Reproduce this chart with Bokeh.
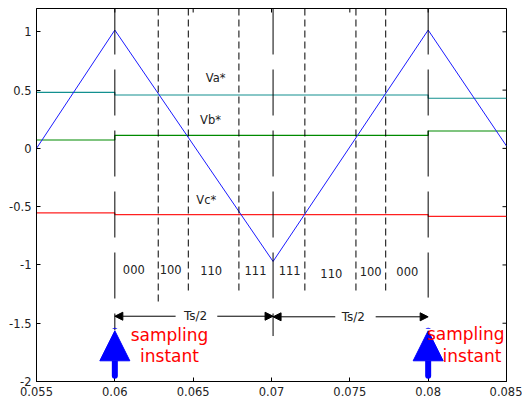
import math
from bokeh.plotting import figure
from bokeh.models import (ColumnDataSource, FixedTicker, Arrow,
                          NormalHead, Label, Range1d)
from bokeh.core.properties import value
from bokeh.embed import file_html
from bokeh.resources import INLINE

# ---- data ----
x_ticks = [0.055, 0.06, 0.065, 0.07, 0.075, 0.08, 0.085]
x_tick_labels = ["0.055", "0.06", "0.065", "0.07", "0.075", "0.08", "0.085"]
y_ticks = [-2, -1.5, -1, -0.5, 0, 0.5, 1]
y_tick_labels = ["-2", "-1.5", "-1", "-0.5", "0", "0.5", "1"]
x_lo, x_hi = 0.055, 0.085
y_lo, y_hi = -2, 1.2

carrier_t = [0.055, 0.060, 0.0701, 0.080, 0.085]
carrier_v = [0.0, 1.015, -0.97, 1.015, 0.02]

step_t = [0.055, 0.060, 0.080, 0.085]
va = [0.48, 0.458, 0.43, 0.43]
vb = [0.072, 0.111, 0.149, 0.149]
vc = [-0.554, -0.568, -0.583, -0.583]

switch_t = [0.06277, 0.06469, 0.06792, 0.07213, 0.07539, 0.07729]
switch_bottom = [-1.32, -1.24, -1.24, -1.25, -1.22, -1.24]
sample_t = [0.06, 0.0701, 0.08]
sample_bottom = [-1.56, -1.61, -1.28]

state_labels = ["000", "100", "110", "111", "111", "110", "100", "000"]
state_x = [0.06121, 0.06356, 0.06615, 0.06898, 0.07116, 0.07382, 0.07633, 0.07867]
state_y = [-1.04, -1.04, -1.05, -1.05, -1.05, -1.07, -1.055, -1.06]

ref_labels = ["Va*", "Vb*", "Vc*"]
ref_x = [0.06643, 0.06611, 0.06584]
ref_y = [0.603, 0.246, -0.44]

ts_label = ["Ts/2", "Ts/2"]
ts_x = [0.06515, 0.07522]
ts_y = [-1.44, -1.445]
ts_start = [0.06, 0.0701]
ts_end = [0.0701, 0.08]
ts_gap_l = [0.06388, 0.07407]
ts_gap_r = [0.06654, 0.07665]

arrow_t = [0.06, 0.08]
arrow_tail = [-1.95, -1.95]
arrow_tip = [-1.565, -1.565]
samp_x1 = [0.06349, 0.0824]
samp_x2 = [0.06349, 0.0828]
samp_y1 = [-1.597, -1.59]
samp_y2 = [-1.777, -1.78]

FONT = "DejaVu Sans"
TXT = "#222222"

p = figure(width=522, height=402, output_backend="svg", toolbar_location=None,
           x_range=Range1d(x_lo, x_hi), y_range=Range1d(y_lo, y_hi),
           min_border_left=36, min_border_right=16, min_border_top=8,
           min_border_bottom=21)
p.grid.visible = False
p.outline_line_color = "black"
p.outline_line_alpha = 1
p.outline_line_width = 1
p.background_fill_color = "white"
p.border_fill_color = "white"


def style_axis(ax, ticks, labels):
    ax.ticker = FixedTicker(ticks=ticks)
    ax.major_tick_in = 4
    ax.major_tick_out = 0
    ax.minor_tick_in = 0
    ax.minor_tick_out = 0
    ax.major_tick_line_color = "black"
    ax.axis_line_color = "black"
    ax.major_label_overrides = {t: l for t, l in zip(ticks, labels)}
    ax.major_label_text_font = FONT
    ax.major_label_text_font_size = "11.5px"
    ax.major_label_text_color = TXT
    ax.major_label_standoff = 5


style_axis(p.xaxis[0], x_ticks, x_tick_labels)
style_axis(p.yaxis[0], y_ticks, y_tick_labels)

# inner ticks on top and right edges of the box
p.ray(x=x_ticks, y=[y_hi] * len(x_ticks), length=4, length_units="screen",
      angle=-math.pi / 2, line_color="black", line_width=1)
p.ray(x=[x_hi] * len(y_ticks), y=y_ticks, length=4, length_units="screen",
      angle=math.pi, line_color="black", line_width=1)

# reference step signals
p.step(step_t, va, mode="after", line_color="#12908f", line_width=1.2)
p.step(step_t, vb, mode="after", line_color="#008a00", line_width=1.2)
p.step(step_t, vc, mode="after", line_color="#ff2020", line_width=1.2)

# carrier
p.line(carrier_t, carrier_v, line_color="#1a1aff", line_width=1)

# switching instants
p.segment(x0=switch_t, y0=[y_hi] * len(switch_t), x1=switch_t, y1=switch_bottom,
          line_color="black", line_width=1, line_dash="7 4")
p.segment(x0=sample_t, y0=[y_hi] * len(sample_t), x1=sample_t, y1=sample_bottom,
          line_color="black", line_width=1, line_dash="46 15")

# texts
p.text(x=state_x, y=state_y, text=state_labels, text_align="center",
       text_baseline="middle", text_font=value(FONT), text_font_size="11.5px",
       text_color=TXT)
p.text(x=ref_x, y=ref_y, text=ref_labels, text_align="center",
       text_baseline="middle", text_font=value(FONT), text_font_size="11.5px",
       text_color=TXT)
p.text(x=ts_x, y=ts_y, text=ts_label, text_align="center",
       text_baseline="middle", text_font=value(FONT), text_font_size="12px",
       text_color=TXT)

# Ts/2 dimension arrows
arr_src = ColumnDataSource(dict(
    xs=ts_gap_l + ts_gap_r,
    xe=ts_start + ts_end,
    ys=ts_y + ts_y,
))
p.add_layout(Arrow(x_start="xs", y_start="ys", x_end="xe", y_end="ys",
                   source=arr_src, line_color="black", line_width=1,
                   end=NormalHead(size=8, fill_color="black", line_color="black",
                                  line_width=1)))

# blue sampling arrows
blue_src = ColumnDataSource(dict(x=arrow_t, y0=arrow_tail, y1=arrow_tip))
p.add_layout(Arrow(x_start="x", y_start="y0", x_end="x", y_end="y1",
                   source=blue_src, line_color="#0000ff", line_width=6,
                   line_cap="round",
                   end=NormalHead(size=30, fill_color="#0000ff",
                                  line_color="#0000ff", line_width=1)))

for x1, x2, y1, y2 in zip(samp_x1, samp_x2, samp_y1, samp_y2):
    for txt, xx, yy in (("sampling", x1, y1), ("instant", x2, y2)):
        p.add_layout(Label(x=xx, y=yy, text=txt, text_align="center",
                           text_baseline="middle", text_color="#ff0000",
                           text_font=FONT, text_font_size="17px",
                           level="overlay"))

open("out.html", "w").write(file_html(p, INLINE))
